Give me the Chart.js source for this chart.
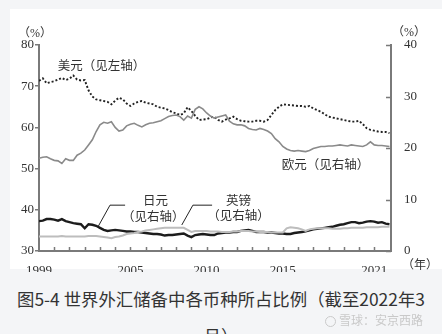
<!DOCTYPE html>
<html>
<head>
<meta charset="utf-8">
<script src="https://cdn.jsdelivr.net/npm/chart.js@4/dist/chart.umd.min.js"></script>
<style>
  html, body { margin: 0; padding: 0; }
  body { width: 442px; height: 334px; background: #f4f5f7; position: relative; overflow: hidden; }
  #panel { position: absolute; left: 10px; top: 9px; width: 432px; height: 260px; background: #fff; }
  #wrap { position: absolute; left: 0; top: 0; width: 442px; height: 272px; }
  .unit { position: absolute; font: 12px "Liberation Serif", "Noto Sans CJK SC", serif; color: #333; white-space: nowrap; }
  #caption { position: absolute; left: 0; top: 280px; width: 442px; text-align: center;
    font: 17.4px "Noto Sans CJK SC", sans-serif; color: #333; line-height: 37px; white-space: nowrap; }
  #mark { position: absolute; left: 325px; top: 311px; font: 12px "Noto Sans CJK SC", sans-serif; color: #c9c9c9; white-space: nowrap; }
  #mark span { display: inline-block; width: 11px; height: 11px; border: 1.5px solid #c9c9c9; border-radius: 50%; vertical-align: -2px; margin-right: 3px; box-sizing: border-box; }
</style>
</head>
<body>
<div id="panel"></div>
<div id="wrap"><canvas id="chart"></canvas></div>
<div class="unit" style="left:18px;top:23px">（%）</div>
<div class="unit" style="left:392px;top:22px">（%）</div>
<div class="unit" style="left:402px;top:255px">（年）</div>
<div id="caption">图5-4 世界外汇储备中各币种所占比例（截至2022年3<br>月）</div>
<div id="mark"><span></span>雪球：安京西路</div>
<script>
'use strict';

// ─── Data: quarterly shares (%), 1999Q1 … 2022Q1 ───────────────────
const startYear = 1999;
const xTickYears = [1999, 2005, 2010, 2015, 2021];
const leftTicks = [30, 40, 50, 60, 70, 80];
const rightTicks = [0, 10, 20, 30, 40];

const usd = [
  71.3, 71.9, 70.7, 71.0,  71.2, 71.6, 72.0, 71.5,  71.8, 72.6, 71.6, 71.4,
  71.5, 69.0, 67.5, 66.8,  66.6, 66.4, 66.2, 65.6,  66.5, 67.2, 66.8, 65.8,
  65.2, 65.8, 66.2, 66.4,  66.0, 65.8, 65.6, 65.0,  64.8, 64.6, 64.2, 63.7,
  63.4, 63.0, 63.4, 64.9,  64.0, 62.8, 61.8, 61.9,  62.0, 62.4, 62.6, 61.8,
  61.4, 61.9, 62.2, 62.6,  62.0, 61.6, 61.5, 61.4,  61.4, 61.6, 61.6, 61.4,
  61.8, 63.0, 64.2, 65.0,  65.6, 65.5, 65.4, 65.3,  65.2, 65.2, 65.0, 65.2,
  64.6, 64.2, 63.8, 63.2,  62.6, 62.4, 62.2, 62.0,  61.8, 61.6, 61.4, 61.4,
  61.6, 60.8, 59.8, 59.4,  59.2, 59.0, 58.9, 58.9,  58.6
];
const eur = [
  18.0, 18.2, 18.3, 17.9,  17.6, 17.5, 17.0, 17.9,  17.6, 17.6, 18.6, 19.0,
  19.6, 20.6, 21.6, 23.2,  24.5, 25.0, 24.8, 25.1,  24.0, 23.3, 23.5, 24.3,
  24.6, 24.8, 24.4, 24.1,  24.5, 24.8, 24.9, 25.1,  25.3, 25.7, 26.1, 26.3,
  26.4, 26.1, 25.4, 26.2,  25.8, 27.5, 28.0, 27.6,  26.8, 26.2, 25.8, 26.0,
  26.2, 26.4, 25.2, 24.7,  24.5, 24.5, 24.3, 23.8,  23.6, 23.5, 23.8, 23.6,
  23.3, 22.8, 21.8, 21.2,  20.3, 19.8, 19.5, 19.4,  19.5, 19.4, 19.3, 19.5,
  19.9, 20.1, 20.3, 20.3,  20.4, 20.4, 20.5, 20.6,  20.5, 20.4, 20.6, 20.5,
  20.4, 20.3, 20.6, 21.2,  20.6, 20.5, 20.5, 20.4,  20.3
];
const jpy = [
  5.8, 5.9, 6.2, 6.2,  6.1, 5.9, 6.2, 5.8,  5.6, 5.4, 5.3, 5.2,
  4.4, 5.2, 5.1, 4.9,  4.5, 4.1, 3.9, 4.0,  4.1, 4.0, 3.9, 3.8,
  3.8, 3.7, 3.7, 3.6,  3.5, 3.4, 3.3, 3.3,  3.2, 3.0, 3.1, 3.1,
  3.2, 3.3, 3.4, 3.0,  2.7, 3.1, 3.2, 3.3,  3.2, 3.1, 3.1, 3.4,
  3.5, 3.6, 3.6, 3.7,  3.7, 3.9, 4.0, 4.1,  3.9, 3.7, 3.7, 3.7,
  3.6, 3.6, 3.5, 3.4,  3.4, 3.3, 3.3, 3.5,  3.6, 3.7, 3.8, 4.0,
  4.2, 4.3, 4.4, 4.5,  4.6, 4.7, 4.9, 5.1,  5.2, 5.4, 5.6, 5.6,
  5.4, 5.5, 5.7, 5.8,  5.7, 5.5, 5.6, 5.3,  5.2
];
const gbp = [
  2.8, 2.8, 2.8, 2.8,  2.8, 2.8, 2.9, 2.8,  2.8, 2.8, 2.8, 2.8,
  2.8, 2.9, 2.9, 2.9,  2.8, 2.7, 2.6, 2.5,  2.7, 2.8, 3.0, 3.3,
  3.4, 3.5, 3.7, 3.8,  4.0, 4.1, 4.2, 4.3,  4.4, 4.5, 4.5, 4.5,
  4.5, 4.5, 4.5, 4.1,  3.7, 3.9, 3.9, 3.9,  3.9, 3.8, 3.8, 3.8,
  3.7, 3.7, 3.7, 3.8,  3.8, 3.9, 3.9, 3.9,  3.8, 3.8, 3.7, 3.7,
  3.7, 3.6, 3.6, 3.6,  3.6, 4.4, 4.6, 4.5,  4.4, 4.2, 3.9, 4.2,
  4.3, 4.4, 4.4, 4.4,  4.4, 4.3, 4.3, 4.3,  4.4, 4.4, 4.5, 4.5,
  4.5, 4.5, 4.6, 4.6,  4.6, 4.6, 4.7, 4.7,  4.7
];

// ─── Helpers ───────────────────────────────────────────────────────
const toPoints = arr => arr.map((v, i) => ({ x: startYear + i / 4, y: v }));
const axisColor = '#7a7a7a';
const textColor = '#333';
const serif = '"Liberation Serif", "Noto Sans CJK SC", serif';
const cjk = '"Noto Sans CJK SC", sans-serif';

// Text labels and leader lines, in data coordinates
const notes = [
  { text: '美元（见左轴）', x: 2003.1, y: 75.1, axis: 'y' },
  { text: '欧元（见右轴）', x: 2017.8, y: 16.9, axis: 'y2' },
  { text: '日元', x: 2006.65, y: 9.9, axis: 'y2' },
  { text: '（见右轴）', x: 2006.5, y: 6.8, axis: 'y2' },
  { text: '英镑', x: 2012.1, y: 9.9, axis: 'y2' },
  { text: '（见右轴）', x: 2012.1, y: 6.9, axis: 'y2' },
];
const leaders = [
  [[2004.65, 8.9], [2003.66, 8.9], [2002.9, 4.85]],
  [[2010.36, 8.9], [2009.1, 8.9], [2008.37, 5.05]],
];

const decorPlugin = {
  id: 'decor',
  afterDatasetsDraw(chart) {
    const { ctx, scales } = chart;
    const x = scales.x, y = scales.y, y2 = scales.y2;
    ctx.save();

    // inward ticks: bottom axis (every year) and right axis
    ctx.strokeStyle = axisColor;
    ctx.lineWidth = 1.5;
    ctx.beginPath();
    for (let yr = startYear + 1; yr <= 2021; yr++) {
      const px = Math.round(x.getPixelForValue(yr)) + 0.5;
      ctx.moveTo(px, y.bottom);
      ctx.lineTo(px, y.bottom - 4);
    }
    rightTicks.forEach(v => {
      const py = Math.round(y2.getPixelForValue(v)) + 0.5;
      ctx.moveTo(x.right, py);
      ctx.lineTo(x.right - 5, py);
    });
    ctx.stroke();

    // leader lines
    ctx.strokeStyle = '#222';
    ctx.lineWidth = 1;
    leaders.forEach(pts => {
      ctx.beginPath();
      pts.forEach(([a, b], i) => {
        const px = x.getPixelForValue(a), py = y2.getPixelForValue(b);
        if (i === 0) ctx.moveTo(px, py); else ctx.lineTo(px, py);
      });
      ctx.stroke();
    });

    // text notes
    ctx.fillStyle = textColor;
    ctx.font = '12.5px ' + cjk;
    ctx.textAlign = 'center';
    ctx.textBaseline = 'middle';
    notes.forEach(n => {
      ctx.fillText(n.text, x.getPixelForValue(n.x), scales[n.axis].getPixelForValue(n.y));
    });
    ctx.restore();
  }
};

new Chart(document.getElementById('chart'), {
  type: 'line',
  data: {
    datasets: [
      { label: '英镑', data: toPoints(gbp), yAxisID: 'y2', borderColor: '#bdbdbd', borderWidth: 2 },
      { label: '欧元', data: toPoints(eur), yAxisID: 'y2', borderColor: '#8a8a8a', borderWidth: 1.6 },
      { label: '日元', data: toPoints(jpy), yAxisID: 'y2', borderColor: '#1c1c1c', borderWidth: 2.4 },
      { label: '美元', data: toPoints(usd), yAxisID: 'y', borderColor: '#222', borderWidth: 1.9, borderDash: [2, 2] },
    ],
  },
  options: {
    responsive: true,
    maintainAspectRatio: false,
    animation: false,
    layout: { padding: { top: 45, left: 0, right: 0, bottom: 0 } },
    elements: { point: { radius: 0 }, line: { tension: 0, borderCapStyle: 'butt' } },
    plugins: { legend: { display: false }, tooltip: { enabled: false } },
    scales: {
      x: {
        type: 'linear',
        min: startYear,
        max: 2022.1,
        afterBuildTicks: s => { s.ticks = xTickYears.map(v => ({ value: v })); },
        afterFit: s => { s.height = 21; },
        ticks: {
          autoSkip: false, maxRotation: 0, color: textColor, font: { family: serif, size: 13 }, padding: 4,
          callback: v => String(v),
        },
        grid: { display: false },
        border: { display: true, color: axisColor, width: 2 },
      },
      y: {
        position: 'left',
        min: 30,
        max: 80,
        afterBuildTicks: s => { s.ticks = leftTicks.map(v => ({ value: v })); },
        afterFit: s => { s.width = 39; },
        ticks: { color: textColor, font: { family: serif, size: 13 }, padding: 1 },
        grid: { drawOnChartArea: false, tickLength: 4, color: axisColor, lineWidth: 1.5 },
        border: { display: true, color: axisColor, width: 2 },
      },
      y2: {
        position: 'right',
        min: 0,
        max: 40,
        afterBuildTicks: s => { s.ticks = rightTicks.map(v => ({ value: v })); },
        afterFit: s => { s.width = 51; },
        ticks: { color: textColor, font: { family: serif, size: 13 }, padding: 5 },
        grid: { display: false },
        border: { display: true, color: axisColor, width: 2 },
      },
    },
  },
  plugins: [decorPlugin],
});
</script>
</body>
</html>
